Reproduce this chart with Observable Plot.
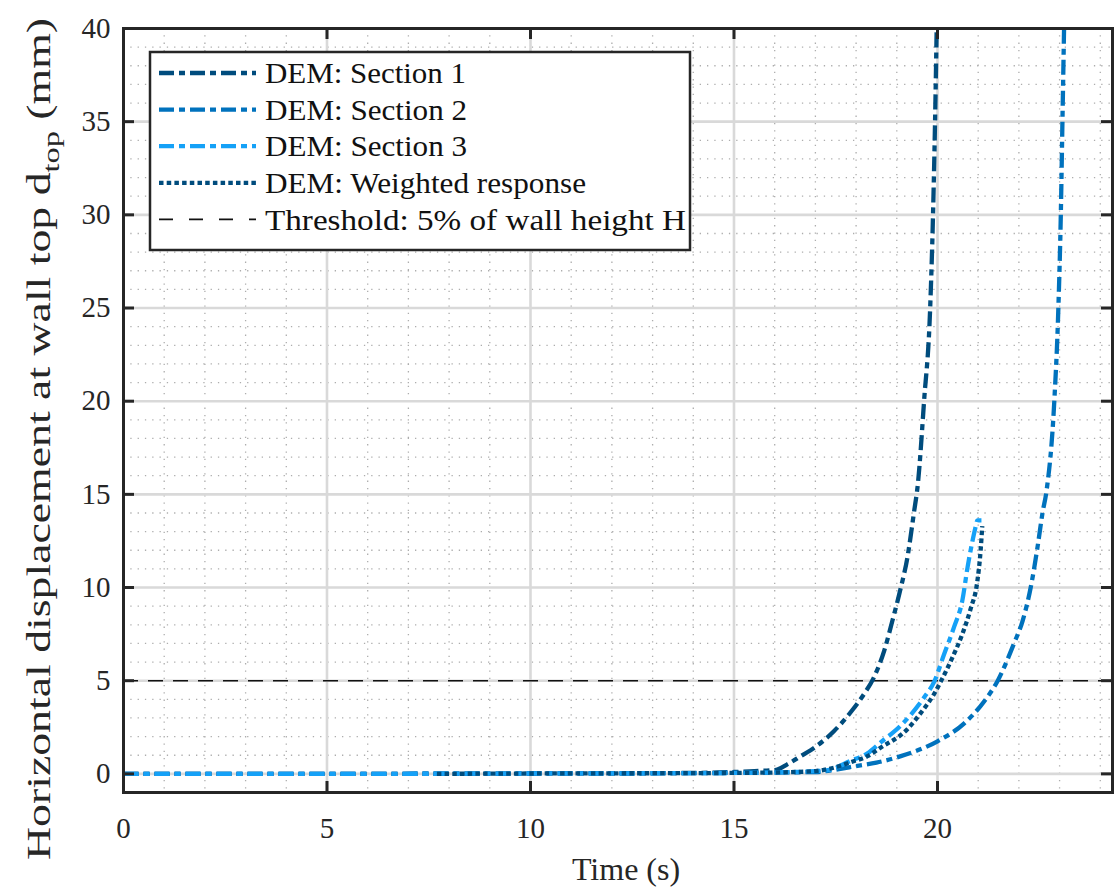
<!DOCTYPE html>
<html><head><meta charset="utf-8">
<script src="https://cdn.jsdelivr.net/npm/d3@7"></script>
<script src="https://cdn.jsdelivr.net/npm/@observablehq/plot@0.6"></script>
<style>
html,body{margin:0;padding:0;background:#fff;}
#chart{width:1114px;height:889px;}
</style></head><body><div id="chart"></div>
<script>
// ---------- data ----------
const seriesNames = ["DEM: Section 1", "DEM: Section 2", "DEM: Section 3", "DEM: Weighted response"];
const thresholdLabel = "Threshold: 5% of wall height H";
const threshold = 5;

const s1Time = [0, 5, 10, 14, 15, 15.5, 16.0, 16.3, 16.64, 17.0, 17.46, 17.9, 18.2, 18.42, 18.69, 18.89, 19.1, 19.26, 19.42, 19.52, 19.67, 19.82, 19.89, 19.94, 19.98];
const s1Disp = [0, 0, 0.02, 0.05, 0.1, 0.15, 0.2, 0.5, 0.95, 1.45, 2.3, 3.4, 4.3, 5.1, 6.6, 8.2, 10.0, 11.6, 14.0, 15.6, 20, 25, 30, 35, 40];

const s2Time = [0, 5, 10, 15, 17.0, 17.45, 17.95, 18.5, 19.1, 20.0, 20.65, 21.15, 21.48, 21.88, 22.09, 22.29, 22.46, 22.58, 22.68, 22.87, 22.97, 23.03, 23.07, 23.11];
const s2Disp = [0, 0, 0.02, 0.05, 0.1, 0.2, 0.4, 0.6, 0.95, 1.75, 2.7, 3.9, 5.0, 7.0, 8.2, 10.0, 12.2, 14.0, 15.2, 20, 25, 30, 35, 40];

const s3Time = [0, 5, 10, 15, 16.5, 17.0, 17.3, 17.87, 18.28, 18.61, 19.1, 19.67, 19.92, 20.16, 20.41, 20.61, 20.74, 20.85, 20.93, 20.98, 21.08];
const s3Disp = [0, 0, 0.02, 0.05, 0.1, 0.15, 0.2, 0.7, 1.1, 1.7, 2.6, 4.1, 4.95, 6.4, 7.9, 9.3, 11.1, 12.4, 13.2, 13.6, 13.6];

const wTime = [7.7, 10, 15, 16.5, 17.0, 17.4, 17.9, 18.28, 18.6, 19.26, 19.6, 19.92, 20.08, 20.37, 20.61, 20.82, 20.97, 21.06, 21.1];
const wDisp = [0, 0.02, 0.05, 0.1, 0.15, 0.3, 0.65, 0.95, 1.4, 2.4, 3.3, 4.3, 4.95, 6.26, 7.5, 8.9, 10.2, 12.0, 13.3];

const xTicks = [0, 5, 10, 15, 20];
const yTicks = [0, 5, 10, 15, 20, 25, 30, 35, 40];
const xMinor = [1, 2, 3, 4, 6, 7, 8, 9, 11, 12, 13, 14, 16, 17, 18, 19, 21, 22, 23, 24];
const yMinor = [1, 2, 3, 4, 6, 7, 8, 9, 11, 12, 13, 14, 16, 17, 18, 19, 21, 22, 23, 24, 26, 27, 28, 29, 31, 32, 33, 34, 36, 37, 38, 39];

const xLabel = "Time (s)";
const yLabelMain = "Horizontal displacement at wall top d";
const yLabelSub = "top";
const yLabelEnd = " (mm)";

// ---------- styling ----------
const colors = ["#004C7D", "#0072BD", "#15A1F7", "#004C7D"];
const dashes = ["15,5,6,5", "15,5,6,5", "15,5,6,5", "4.5,3.2"];
const W = 1114, H = 889;
const mT = 28, mB = 97, mL = 123, mR = 2;
const innerW = W - mL - mR, innerH = H - mT - mB;
const axisColor = "#262626";
const FONT = "Liberation Serif";

const seriesData = [
  [s1Time, s1Disp], [s2Time, s2Disp], [s3Time, s3Disp], [wTime, wDisp]
];
const rows = seriesData.flatMap(([t, v], i) => t.map((tt, j) => ({series: seriesNames[i], t: tt, d: v[j]})));

const lineMarks = seriesNames.map((name, i) =>
  Plot.line(rows.filter(r => r.series === name), {
    x: "t", y: "d", stroke: colors[i], strokeWidth: 4.3, curve: "monotone-x",
    strokeDasharray: dashes[i], strokeLinecap: "butt", strokeLinejoin: "round", clip: true
  })
);

const chart = Plot.plot({
  width: W, height: H,
  marginTop: mT, marginBottom: mB, marginLeft: mL, marginRight: mR,
  style: {fontFamily: FONT, fontSize: "28px", background: "white", color: "#262626"},
  x: {domain: [0, 24.3]},
  y: {domain: [-1, 40]},
  marks: [
    Plot.ruleX(xMinor, {stroke: "#adadad", strokeWidth: 1.3, strokeDasharray: "1.3,6"}),
    Plot.ruleY(yMinor, {stroke: "#adadad", strokeWidth: 1.3, strokeDasharray: "1.3,6"}),
    Plot.ruleX(xTicks, {stroke: "#d9d9d9", strokeWidth: 2.6}),
    Plot.ruleY(yTicks, {stroke: "#d9d9d9", strokeWidth: 2.6}),
    Plot.ruleY([threshold], {stroke: "#111", strokeWidth: 1.6, strokeDasharray: "15,10"}),
    ...lineMarks,
    Plot.frame({stroke: axisColor, strokeWidth: 3}),
    // inward ticks
    Plot.ruleX(xTicks, {stroke: axisColor, strokeWidth: 3, insetTop: innerH - 11}),
    Plot.ruleX(xTicks, {stroke: axisColor, strokeWidth: 3, insetBottom: innerH - 11}),
    Plot.ruleY(yTicks, {stroke: axisColor, strokeWidth: 3, insetRight: innerW - 11}),
    Plot.ruleY(yTicks, {stroke: axisColor, strokeWidth: 3, insetLeft: innerW - 11}),
    Plot.axisX(xTicks, {tickSize: 0, tickPadding: 25, fontSize: 29, label: null, fill: "#262626"}),
    Plot.axisY(yTicks, {tickSize: 0, tickPadding: 13, fontSize: 29, label: null, fill: "#262626"}),
    Plot.text([xLabel], {frameAnchor: "bottom", lineAnchor: "middle", dy: 77, dx: 8, fontSize: 32, fill: "#262626", textLength: 135, lengthAdjust: "spacingAndGlyphs"})
  ]
});
document.getElementById("chart").appendChild(chart);

// ---------- y label with subscript ----------
const svg = d3.select(chart);
const yl = svg.append("text")
  .attr("transform", "translate(50,439) rotate(-90)")
  .attr("text-anchor", "middle")
  .attr("font-family", FONT)
  .attr("font-size", 34)
  .attr("fill", "#262626")
  .attr("textLength", 842)
  .attr("lengthAdjust", "spacingAndGlyphs");
yl.append("tspan").text(yLabelMain);
yl.append("tspan").attr("dy", 9).attr("font-size", 24).text(yLabelSub);
yl.append("tspan").attr("dy", -9).text(yLabelEnd);

// ---------- legend ----------
const lg = svg.append("g");
lg.append("rect").attr("x", 150).attr("y", 52).attr("width", 540).attr("height", 198)
  .attr("fill", "white").attr("stroke", axisColor).attr("stroke-width", 2.5);
const entries = seriesNames.map((n, i) => ({name: n, color: colors[i], dash: dashes[i], w: 4.3}))
  .concat([{name: thresholdLabel, color: "#111", dash: "14,16", w: 1.6}]);
const textWidths = [201, 202, 202, 321, 421];
entries.forEach((e, i) => {
  const cy = 73 + i * 36.6;
  lg.append("line").attr("x1", 159).attr("x2", 256).attr("y1", cy).attr("y2", cy)
    .attr("stroke", e.color).attr("stroke-width", e.w).attr("stroke-dasharray", e.dash);
  lg.append("text").attr("x", 265).attr("y", cy).attr("dy", "0.34em")
    .attr("text-anchor", "start")
    .attr("font-family", FONT).attr("font-size", 30).attr("fill", "#111")
    .attr("textLength", textWidths[i]).attr("lengthAdjust", "spacingAndGlyphs")
    .text(e.name);
});
</script>
</body></html>
